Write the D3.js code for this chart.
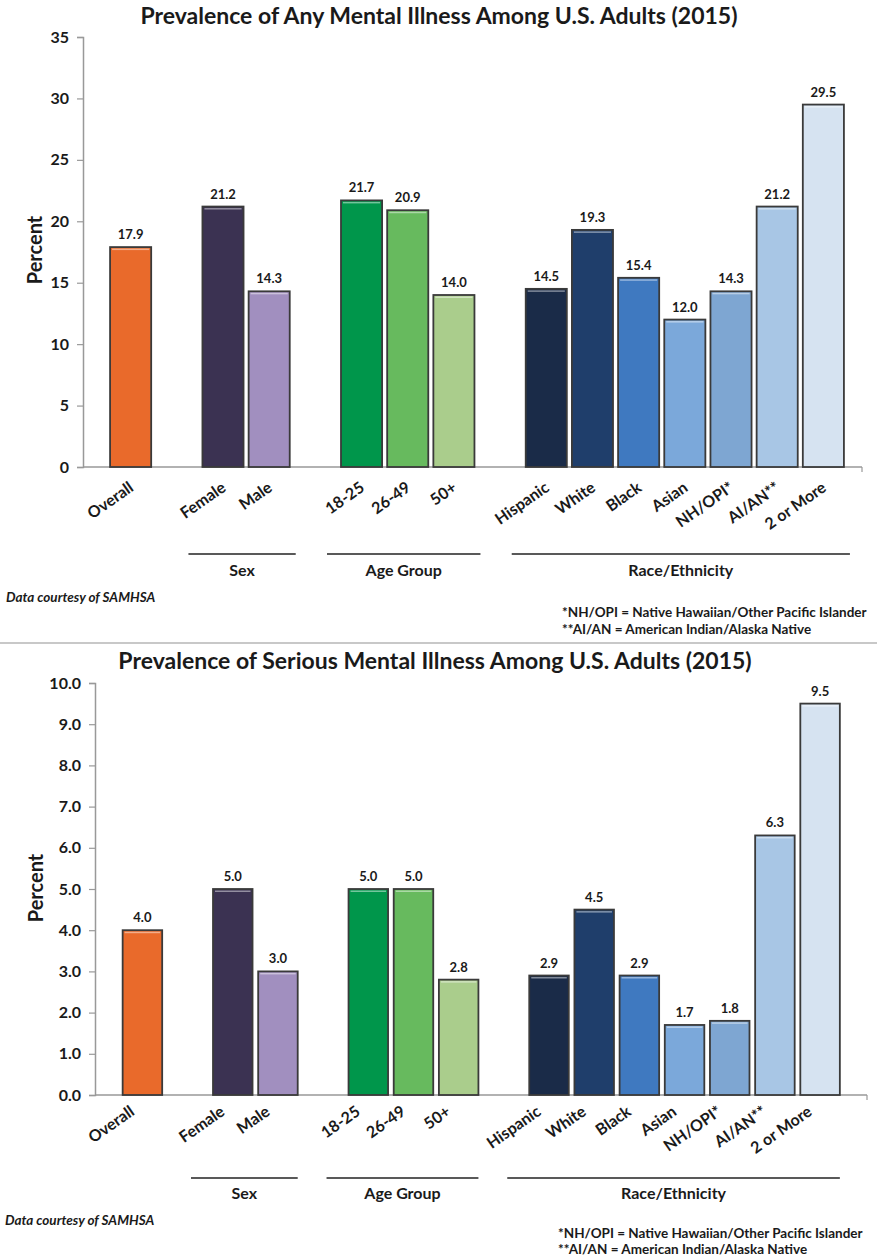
<!DOCTYPE html>
<html>
<head>
<meta charset="utf-8">
<script src="https://cdn.jsdelivr.net/npm/d3@7"></script>
<style>
  body { margin: 0; background: #fff; }
  text { font-family: Lato, "Open Sans", sans-serif; font-weight: bold; fill: #1a1a1a; }
</style>
</head>
<body>
<svg id="chart" width="877" height="1259"></svg>
<script>
// categories in drawing order, blank slots keep the groups apart
var categories = ["Overall", "Female", "Male", "18-25", "26-49", "50+",
  "Hispanic", "White", "Black", "Asian", "NH/OPI*", "AI/AN**", "2 or More"];
var slots = ["Overall", "_1", "Female", "Male", "_2", "18-25", "26-49", "50+", "_3",
  "Hispanic", "White", "Black", "Asian", "NH/OPI*", "AI/AN**", "2 or More"];

var anyValues = [17.9, 21.2, 14.3, 21.7, 20.9, 14.0, 14.5, 19.3, 15.4, 12.0, 14.3, 21.2, 29.5];
var seriousValues = [4.0, 5.0, 3.0, 5.0, 5.0, 2.8, 2.9, 4.5, 2.9, 1.7, 1.8, 6.3, 9.5];

var barColors = ["#e96a2b", "#3b3252", "#a18fbf", "#00964b", "#67ba5e", "#aacd8c",
  "#1a2b48", "#1f3e6b", "#3f79c0", "#7ba8da", "#7ea6d2", "#a8c6e5", "#d6e3f1"];

var anyTicks = [0, 5, 10, 15, 20, 25, 30, 35];
var seriousTicks = [0, 1, 2, 3, 4, 5, 6, 7, 8, 9, 10];

var groupNames = ["Sex", "Age Group", "Race/Ethnicity"];
var groupFirst = ["Female", "18-25", "Hispanic"];
var groupLast = ["Male", "50+", "2 or More"];

var notes = ["*NH/OPI = Native Hawaiian/Other Pacific Islander",
  "**AI/AN = American Indian/Alaska Native"];

var svg = d3.select("#chart");

function drawChart(cfg) {
  var g = svg.append("g");

  var y = d3.scaleLinear()
    .domain([0, cfg.yMax])
    .range([cfg.yBottom, cfg.yTop]);

  var x = d3.scaleBand()
    .domain(slots)
    .range(cfg.xRange)
    .paddingInner(cfg.pad)
    .paddingOuter(cfg.pad);

  // title
  g.append("text")
    .attr("x", cfg.titleX)
    .attr("y", cfg.titleY)
    .attr("text-anchor", "middle")
    .style("font-size", "23px")
    .text(cfg.title);

  // y axis
  var leftAxis = d3.axisLeft(y)
    .tickValues(cfg.ticks)
    .tickSize(6)
    .tickPadding(8)
    .tickFormat(d3.format(cfg.fmt));

  var ya = g.append("g")
    .attr("transform", `translate(${cfg.axisX},0)`)
    .call(leftAxis);
  ya.select(".domain").attr("stroke", "#999").attr("stroke-width", 1.5);
  ya.selectAll(".tick line").attr("stroke", "#999").attr("stroke-width", 1.2);
  ya.selectAll(".tick text")
    .style("font-size", "16px")
    .style("font-family", "Lato, sans-serif")
    .attr("fill", "#1a1a1a");

  // x axis line
  g.append("line")
    .attr("x1", cfg.axisX).attr("x2", cfg.axisEnd)
    .attr("y1", cfg.yBottom).attr("y2", cfg.yBottom)
    .attr("stroke", "#999").attr("stroke-width", 1.5);
  g.append("line")
    .attr("x1", cfg.axisEnd).attr("x2", cfg.axisEnd)
    .attr("y1", cfg.yBottom).attr("y2", cfg.yBottom + 5)
    .attr("stroke", "#999").attr("stroke-width", 1.2);

  g.append("text")
    .attr("transform", `translate(${cfg.percentX},${cfg.percentY}) rotate(-90)`)
    .attr("text-anchor", "middle")
    .style("font-size", "20px")
    .text("Percent");

  var data = categories.map((c, i) => ({ cat: c, val: cfg.values[i], color: barColors[i] }));

  // bars
  g.selectAll(".bar")
    .data(data)
    .enter()
    .append("rect")
    .attr("class", "bar")
    .attr("x", d => x(d.cat))
    .attr("y", d => y(d.val))
    .attr("width", x.bandwidth())
    .attr("height", d => cfg.yBottom - y(d.val))
    .attr("fill", d => d.color)
    .attr("stroke", "#3a3a3a")
    .attr("stroke-width", 1.8);

  // little highlight along the top edge
  g.selectAll(".shine")
    .data(data)
    .enter()
    .append("rect")
    .attr("x", d => x(d.cat) + 2)
    .attr("y", d => y(d.val) + 1.5)
    .attr("width", x.bandwidth() - 4)
    .attr("height", 1.5)
    .attr("fill", "#fff")
    .attr("opacity", 0.45);

  // value labels
  g.selectAll(".val")
    .data(data)
    .enter()
    .append("text")
    .attr("x", d => x(d.cat) + x.bandwidth() / 2)
    .attr("y", d => y(d.val) - 8)
    .attr("text-anchor", "middle")
    .style("font-size", "13px")
    .text(d => d3.format(".1f")(d.val));

  // category labels
  g.selectAll(".cat")
    .data(data)
    .enter()
    .append("text")
    .attr("transform", d => `translate(${x(d.cat) + x.bandwidth() / 2 + cfg.labelDx},${cfg.yBottom + cfg.labelDy}) rotate(-35)`)
    .attr("text-anchor", "end")
    .style("font-size", "16px")
    .text(d => d.cat);

  // group brackets
  groupNames.forEach((name, i) => {
    var x1 = x(groupFirst[i]) + cfg.lineL;
    var x2 = x(groupLast[i]) + x.bandwidth() + cfg.lineR;
    g.append("line")
      .attr("x1", x1).attr("x2", x2)
      .attr("y1", cfg.groupLineY).attr("y2", cfg.groupLineY)
      .attr("stroke", "#222").attr("stroke-width", 1.5);
    g.append("text")
      .attr("x", (x1 + x2) / 2)
      .attr("y", cfg.groupLabelY)
      .attr("text-anchor", "middle")
      .style("font-size", "16px")
      .text(name);
  });

  g.append("text")
    .attr("x", cfg.creditX)
    .attr("y", cfg.creditY)
    .style("font-size", "13.5px")
    .style("font-style", "italic")
    .text("Data courtesy of SAMHSA");

  g.selectAll(".note")
    .data(notes)
    .enter()
    .append("text")
    .attr("x", cfg.noteX)
    .attr("y", (d, i) => cfg.noteY[i])
    .style("font-size", "13.5px")
    .text(d => d);
}

drawChart({
  title: "Prevalence of Any Mental Illness Among U.S. Adults (2015)",
  titleX: 439, titleY: 24,
  values: anyValues, yMax: 35, ticks: anyTicks, fmt: "d",
  yTop: 37, yBottom: 467, axisX: 83, axisEnd: 862,
  xRange: [105, 849], pad: 0.11,
  labelDx: 4, labelDy: 23,
  percentX: 42, percentY: 250,
  groupLineY: 554, groupLabelY: 576, lineL: -14, lineR: 6,
  creditX: 6, creditY: 602,
  noteX: 562, noteY: [617, 634]
});

// divider between the two charts
svg.append("line")
  .attr("x1", 0).attr("x2", 877)
  .attr("y1", 643).attr("y2", 643)
  .attr("stroke", "#c8c8c8").attr("stroke-width", 2);

drawChart({
  title: "Prevalence of Serious Mental Illness Among U.S. Adults (2015)",
  titleX: 435, titleY: 669,
  values: seriousValues, yMax: 10, ticks: seriousTicks, fmt: ".1f",
  yTop: 683, yBottom: 1095, axisX: 95, axisEnd: 867,
  xRange: [117, 845.5], pad: 0.125,
  labelDx: -7, labelDy: 19,
  percentX: 43, percentY: 888,
  groupLineY: 1178, groupLabelY: 1199, lineL: -22, lineR: 0,
  creditX: 5, creditY: 1225,
  noteX: 558, noteY: [1238, 1254]
});
</script>
</body>
</html>
